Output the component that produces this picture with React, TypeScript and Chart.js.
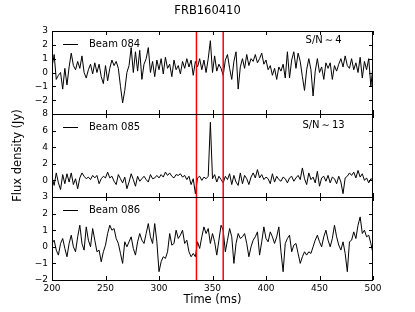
import { useEffect, useRef } from "react";
import { Chart, registerables } from "chart.js";

Chart.register(...registerables);

const FONT = "'DejaVu Sans', sans-serif";

// time axis: 2 ms samples from 200 to 500 ms
const time: number[] = Array.from({ length: 151 }, (_, i) => 200 + 2 * i);

const beam084 = [
  0.4, 1.3, -0.5, -0.2, 0.0, -1.2, 0.3, -0.9, 0.4, 1.4,
  0.5, 0.2, 0.8, 0.3, 1.2, 0.0, -0.4, 0.2, 0.6, -0.1,
  0.7, 0.0, 0.6, -0.3, -0.8, 0.5, -0.6, 0.3, 0.9, 0.5,
  0.8, 0.3, -1.0, -2.2, -1.3, 0.0, 0.5, 1.8, 0.0, 1.5,
  0.1, 1.6, -0.5, 0.6, 1.0, 1.8, 0.0, 0.8, -0.3, 0.9,
  0.2, 1.0, -0.1, 1.1, 0.3, 0.6, -0.3, 0.9, 0.2, 0.5,
  -0.1, 0.8, 0.3, 1.0, 0.4, 0.9, -0.2, 0.8, 0.4, 1.0,
  0.2, 0.9, 0.0, 1.0, 2.3, 0.0, 1.2, 0.1, 0.6, 0.3,
  -0.2, 0.9, 1.3, 0.3, -0.5, 0.8, 1.5, -1.2, 0.4, 1.0,
  0.3, 1.3, 0.5, 1.0, 0.8, 1.3, 0.7, 1.0, 1.4, 0.6,
  0.9, 0.2, 0.5, -0.2, 0.3, -0.5, 0.4, 0.1, 0.6, -0.4,
  1.5, -0.4, 0.9, 1.5, 0.3, 1.4, 0.8, -0.3, -1.3, 0.2,
  1.0, 0.2, -1.7, 0.1, 1.0, 0.0, 0.4, -0.5, 0.7, 0.3,
  0.7, -0.5, 0.5, 0.1, 0.6, 1.0, 0.4, 1.2, 0.5, 0.3,
  1.0, 0.2, 0.7, 0.0, 1.1, -0.4, 0.8, 0.2, 1.0, -1.0, 0.5,
];

const beam085 = [
  0.4, -0.6, 0.9, -0.3, -1.1, 0.7, -0.4, 0.8, -0.2, 0.9,
  -0.5, 0.2, -1.0, 0.3, 0.9, 0.5, 0.2, 0.4, 0.1, 0.6,
  0.3, 0.6, -0.4, 0.2, 0.5, 0.3, 1.0, 0.3, 0.5, -0.1,
  -0.5, 0.7, 0.2, -0.3, 0.4, -1.0, -0.2, 0.8, 0.1, -0.7,
  0.5, -0.1, 0.2, 0.5, 0.1, -0.2, 0.7, 0.2, 0.3, 0.6,
  0.3, 0.7, 0.4, 1.0, 0.6, 0.9, 0.5, 0.3, 0.7, 0.6,
  0.8, 0.4, 0.6, 0.1, 0.5, -0.5, 0.2, -1.6, 0.3, 0.5,
  0.0, 0.4, 0.2, 0.5, 7.0, 0.2, 0.7, -0.2, 0.5, 0.1,
  -0.3, 0.5, 0.1, 0.8, -0.5, 0.6, -0.2, -0.6, 0.9, -0.4,
  0.6, 0.2, -0.5, 0.4, 0.9, 0.3, 1.3, 0.3, 0.7, 0.1,
  0.4, 0.2, -0.4, 0.8, -0.2, 0.5, 0.1, -0.1, 0.4, 0.2,
  -0.3, 0.3, 0.5, -0.1, 0.3, 0.6, 0.1, 1.5, 0.2, -0.5,
  0.9, 0.1, 0.4, -0.3, 1.1, -0.7, 0.3, 0.5, -0.1, 0.6,
  -0.3, 0.4, 0.2, -0.4, 0.5, -0.2, -1.6, 0.3, 0.5, 0.9,
  0.6, 1.0, 0.3, 1.2, 0.4, 0.8, 0.0, 0.3, -0.3, 0.2, 0.1,
];

const beam086 = [
  0.2, 0.4, -0.2, -0.5, 0.2, 0.5, -0.1, -0.6, 0.2, 0.7,
  0.0, -0.3, 0.6, 1.3, 0.2, -0.2, 1.2, 0.4, 0.0, 1.1,
  0.4, -0.3, -0.2, -0.9, -0.3, 0.1, 0.8, 1.3, 1.0, 1.1,
  0.5, 0.2, -0.4, -1.0, 0.3, 0.0, 0.3, 0.6, -0.1, -0.5,
  0.3, 0.8, 0.4, 0.2, 0.8, 1.4, 0.6, 0.2, 1.4, 0.3,
  -1.5, -0.9, -0.6, -0.7, -0.3, 0.8, 0.1, 0.2, 1.0, 0.5,
  0.7, 1.0, 0.2, 0.4, -0.3, -0.6, -0.4, -0.6, 0.3, -0.1,
  0.6, 1.2, 0.8, 1.1, 0.2, 0.8, 0.3, -0.5, 0.4, 1.3,
  1.0, -0.3, 0.4, 1.1, 0.6, -1.0, 0.2, 0.8, 0.5, 0.6,
  0.8, 0.2, -0.6, 0.0, 0.4, 0.6, 0.9, -0.5, 0.3, 1.2,
  0.5, 0.3, 0.9, 0.6, 0.2, 0.6, 1.2, -0.3, -1.5, 0.2,
  0.5, 0.7, -0.3, 0.1, 0.2, -0.4, -1.0, -0.6, -0.3, -0.5,
  -0.3, -0.4, 0.0, 0.4, 0.7, 0.3, 0.0, 0.6, 1.0, 0.4,
  0.0, 0.5, 1.3, 0.6, 0.1, -0.2, 0.3, -0.4, -1.5, 0.3,
  0.4, 0.9, 0.5, 1.3, 1.8, 0.8, 1.0, 0.6, 0.7, 0.2, -0.4,
];

const beamLabels = ["Beam 084", "Beam 085", "Beam 086"];
const snLabels = ["S/N\u2009\u223C\u20094", "S/N\u2009\u223C\u200913", ""];
const snX = [437, 434, 0];
const snY = [2.35, 6.6, 0];
const markerTimes = [335, 360];
const xTickValues = [200, 250, 300, 350, 400, 450, 500];
const panelIds = ["yTop", "yMid", "yBot"];
const panelMin = [-3, -2, -2];
const panelMax = [3, 8, 3];
const panelStep = [1, 2, 1];
const panelHiddenTick = [-3, -2, null];

const titleText = "FRB160410";
const xTitle = "Time (ms)";
const yTitle = "Flux density (Jy)";

const series = [beam084, beam085, beam086];

const panelPlugin = {
  id: "panelPlugin",
  afterDatasetsDraw(chart: any) {
    const ctx = chart.ctx as CanvasRenderingContext2D;
    const { left, right, top, bottom } = chart.chartArea;
    const xs = chart.scales.x;
    ctx.save();

    // red marker lines
    ctx.strokeStyle = "#ff0000";
    ctx.lineWidth = 1.5;
    markerTimes.forEach((t) => {
      const px = xs.getPixelForValue(t);
      ctx.beginPath();
      ctx.moveTo(px, top);
      ctx.lineTo(px, bottom);
      ctx.stroke();
    });

    panelIds.forEach((id, k) => {
      const s = chart.scales[id];
      ctx.strokeStyle = "#000";
      ctx.lineWidth = 1;
      // frame
      ctx.strokeRect(left + 0.5, s.top + 0.5, right - left - 1, s.bottom - s.top);
      // inward x ticks
      const tl = 4;
      xTickValues.forEach((v) => {
        const px = Math.round(xs.getPixelForValue(v)) + 0.5;
        ctx.beginPath();
        ctx.moveTo(px, s.top);
        ctx.lineTo(px, s.top + tl);
        ctx.moveTo(px, s.bottom);
        ctx.lineTo(px, s.bottom - tl);
        ctx.stroke();
      });
      // inward y ticks
      s.ticks.forEach((t: any) => {
        const py = Math.round(s.getPixelForValue(t.value)) + 0.5;
        ctx.beginPath();
        ctx.moveTo(left, py);
        ctx.lineTo(left + tl, py);
        ctx.moveTo(right, py);
        ctx.lineTo(right - tl, py);
        ctx.stroke();
      });
      // legend
      const ly = s.top + 13.5;
      ctx.beginPath();
      ctx.moveTo(left + 11, ly);
      ctx.lineTo(left + 26, ly);
      ctx.stroke();
      ctx.fillStyle = "#000";
      ctx.font = `10px ${FONT}`;
      ctx.textAlign = "left";
      ctx.textBaseline = "middle";
      ctx.fillText(beamLabels[k], left + 37, ly);
      // S/N annotation
      if (snLabels[k]) {
        ctx.fillText(snLabels[k], xs.getPixelForValue(snX[k]), s.getPixelForValue(snY[k]));
      }
    });

    // titles
    ctx.fillStyle = "#000";
    ctx.font = `11.5px ${FONT}`;
    ctx.textAlign = "center";
    ctx.textBaseline = "middle";
    ctx.fillText(titleText, chart.width / 2, 11);
    ctx.fillText(xTitle, (left + right) / 2, 300);
    ctx.save();
    ctx.translate(18, (top + bottom) / 2);
    ctx.rotate(-Math.PI / 2);
    ctx.fillText(yTitle, 0, 0);
    ctx.restore();

    ctx.restore();
  },
};

export default function App() {
  const ref = useRef<HTMLCanvasElement | null>(null);
  useEffect(() => {
    if (!ref.current) return;
    Chart.defaults.font.family = FONT;
    const scales: any = {
      x: {
        type: "linear",
        min: 200,
        max: 500,
        grid: { display: false, drawTicks: false },
        border: { display: false },
        ticks: { stepSize: 50, color: "#000", font: { size: 9 }, padding: 3, autoSkip: false },
        afterFit: (s: any) => {
          s.height = 32;
        },
      },
    };
    // Chart.js places the last-defined stacked left axis at the top,
    // so define the panels from bottom to top.
    [2, 1, 0].forEach((k) => {
      const id = panelIds[k];
      scales[id] = {
        type: "linear",
        position: "left",
        stack: "panels",
        stackWeight: 1,
        min: panelMin[k],
        max: panelMax[k],
        grid: { display: false, drawTicks: false },
        border: { display: false },
        ticks: {
          stepSize: panelStep[k],
          color: "#000",
          font: { size: 9 },
          padding: 4,
          autoSkip: false,
          callback: (v: any) => (v === panelHiddenTick[k] ? "" : v === 0 ? "0" : v < 0 ? "\u2212" + Math.abs(v) : String(v)),
        },
        afterFit: (s: any) => {
          s.width = 52;
        },
      };
    });
    const chart = new Chart(ref.current, {
      type: "line",
      data: {
        datasets: series.map((vals, k) => ({
          label: beamLabels[k],
          data: time.map((t, i) => ({ x: t, y: vals[i] })),
          yAxisID: panelIds[k],
          xAxisID: "x",
          borderColor: "#000",
          borderWidth: 1,
          pointRadius: 0,
          tension: 0,
          fill: false,
        })),
      },
      options: {
        responsive: false,
        animation: false,
        devicePixelRatio: 1,
        layout: { padding: { top: 31, right: 42, left: 0, bottom: 0 } },
        plugins: { legend: { display: false }, title: { display: false }, tooltip: { enabled: false } },
        scales,
      },
      plugins: [panelPlugin],
    });
    return () => chart.destroy();
  }, []);
  return (
    <div style={{ position: "fixed", left: 0, top: 0, width: 415, height: 312, background: "#fff" }}>
      <canvas ref={ref} width={415} height={312} style={{ display: "block" }} />
    </div>
  );
}
